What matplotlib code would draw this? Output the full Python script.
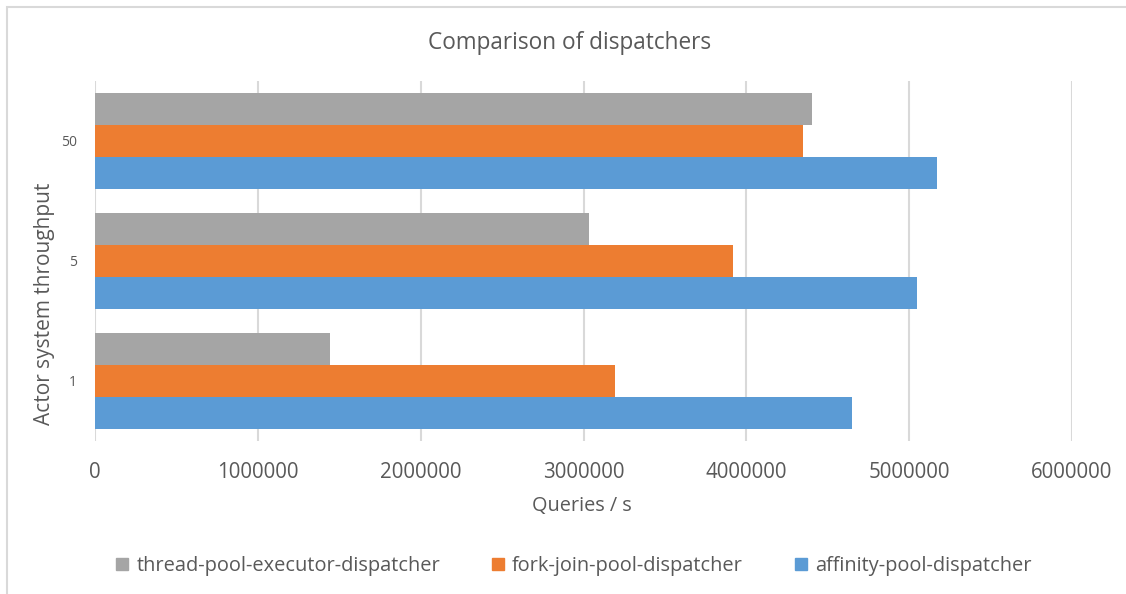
import matplotlib.pyplot as plt
import numpy as np
from matplotlib.patches import Patch, Rectangle

plt.rcParams['font.family'] = ['Open Sans', 'DejaVu Sans']

throughput = ['1', '5', '50']
series = ['thread-pool-executor-dispatcher', 'fork-join-pool-dispatcher', 'affinity-pool-dispatcher']
thread_pool = [1441000, 3036000, 4404000]
fork_join = [3192000, 3919000, 4349000]
affinity = [4647000, 5049000, 5172000]
colors = ['#A5A5A5', '#ED7D31', '#5B9BD5']
xticks = [0, 1000000, 2000000, 3000000, 4000000, 5000000, 6000000]

text_col = '#595959'

fig = plt.figure(figsize=(11.26, 5.94), dpi=100)
ax = fig.add_axes([95 / 1126, 1 - 441 / 594, (1072 - 95) / 1126, 360 / 594])

# outer chart border
fig.patches.append(Rectangle((7 / 1126, -0.1), 1.2, 1 - 7 / 594 + 0.1, transform=fig.transFigure,
                             fill=False, edgecolor='#D9D9D9', linewidth=1.5))

y = np.arange(len(throughput))
h = 0.8 / 3
ax.barh(y + h, thread_pool, height=h, color=colors[0], label=series[0])
ax.barh(y, fork_join, height=h, color=colors[1], label=series[1])
ax.barh(y - h, affinity, height=h, color=colors[2], label=series[2])

ax.set_xlim(0, 6000000)
ax.set_ylim(-0.5, 2.5)
ax.set_xticks(xticks)
ax.set_xticklabels([str(v) for v in xticks], fontsize=14.8, color=text_col)
ax.set_yticks(y)
ax.set_yticklabels(throughput, fontsize=10, color=text_col)
ax.tick_params(axis='both', length=0)
ax.tick_params(axis='x', pad=15)
ax.tick_params(axis='y', pad=13)
ax.grid(axis='x', color='#D9D9D9', linewidth=1.5)
ax.set_axisbelow(True)
for s in ax.spines.values():
    s.set_visible(False)

fig.text(582 / 1126, 1 - 506 / 594, 'Queries / s', ha='center', va='center',
         fontsize=14.3, color=text_col)
fig.text(45 / 1126, 1 - 304 / 594, 'Actor system throughput', ha='center', va='center',
         rotation=90, fontsize=15, color=text_col)
fig.text(570 / 1126, 1 - 43 / 594, 'Comparison of dispatchers', ha='center', va='center',
         fontsize=16.3, color=text_col)

handles = [Patch(color=c) for c in colors]
fig.legend(handles, series, loc='center', bbox_to_anchor=(574 / 1126, 1 - 566 / 594), ncol=3,
           frameon=False, fontsize=14.4, handlelength=0.6, handleheight=0.6,
           handletextpad=0.4, columnspacing=2.6, labelcolor=text_col)

fig.savefig('out.png', dpi=100)
